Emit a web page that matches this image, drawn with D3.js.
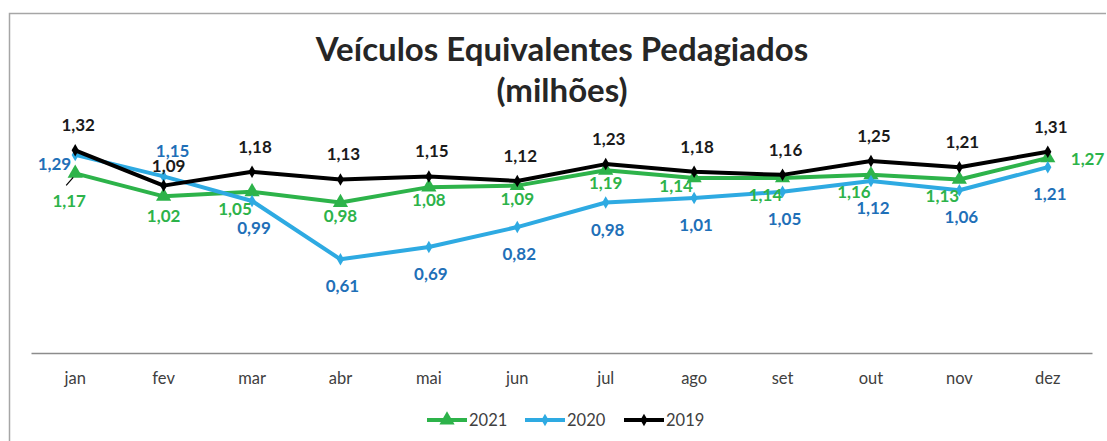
<!DOCTYPE html>
<meta charset="utf-8">
<style>
body { margin: 0; background: #fff; }
svg { font-family: Lato, "Open Sans", sans-serif; }
.axis path, .axis line { fill: none; }
</style>
<body>
<script src="https://cdn.jsdelivr.net/npm/d3@7/dist/d3.min.js"></script>
<script>

// categories and values (milhoes)
var months = ["jan", "fev", "mar", "abr", "mai", "jun", "jul", "ago", "set", "out", "nov", "dez"];
var v2021 = [1.17, 1.02, 1.05, 0.98, 1.08, 1.09, 1.19, 1.14, 1.14, 1.16, 1.13, 1.27];
var v2020 = [1.29, 1.15, 0.99, 0.61, 0.69, 0.82, 0.98, 1.01, 1.05, 1.12, 1.06, 1.21];
var v2019 = [1.32, 1.09, 1.18, 1.13, 1.15, 1.12, 1.23, 1.18, 1.16, 1.25, 1.21, 1.31];
var seriesNames = ["2021", "2020", "2019"];

// where each data label sits relative to its point
var place2021 = ["leader", "low", "belowleft", "below", "below", "below", "below", "leftup", "belowleft", "belowleft", "belowleft", "right"];
var place2020 = ["left", "aboveright", "under", "under", "under", "under", "under", "under", "under", "under", "under", "under"];
var place2019 = ["above", "abovelow", "above", "above", "above", "above", "above", "above", "above", "above", "above", "above"];

var W = 1107, H = 441;

var svg = d3.select("body").append("svg")
    .attr("width", W)
    .attr("height", H);

// chart border
svg.append("path")
    .attr("d", "M9.5," + H + "V13.5H" + (W - 1))
    .attr("fill", "none")
    .attr("stroke", "#a6a6a6")
    .attr("stroke-width", 1.5);

// title
svg.append("text")
    .attr("x", 562).attr("y", 61)
    .attr("text-anchor", "middle")
    .attr("font-size", 33).attr("font-weight", "bold")
    .attr("fill", "#262626")
    .text("Veículos Equivalentes Pedagiados");
svg.append("text")
    .attr("x", 562).attr("y", 102)
    .attr("text-anchor", "middle")
    .attr("font-size", 33).attr("font-weight", "bold")
    .attr("fill", "#262626")
    .text("(milhões)");

var x = d3.scaleBand().domain(months).range([31, 1092]);
var y = d3.scaleLinear().domain([0, 1.4]).range([353, 138]);

function cx(d, i) { return x(months[i]) + x.bandwidth() / 2; }

// x axis
var xAxis = svg.append("g")
    .attr("class", "axis")
    .attr("transform", "translate(0," + y(0) + ")")
    .call(d3.axisBottom(x).tickSize(0).tickPadding(19));
xAxis.select(".domain").attr("stroke", "#8c8c8c").attr("stroke-width", 1.5);
xAxis.selectAll("text")
    .attr("font-size", 16.5)
    .attr("font-family", "Lato, 'Open Sans', sans-serif")
    .attr("fill", "#404040");

var series = [
  { name: seriesNames[0], values: v2021, place: place2021, line: "#2db34a", label: "#2db34a", symbol: d3.symbolTriangle, size: 100 },
  { name: seriesNames[1], values: v2020, place: place2020, line: "#2eaae2", label: "#1f70b8", symbol: d3.symbolDiamond, size: 45 },
  { name: seriesNames[2], values: v2019, place: place2019, line: "#000000", label: "#1a1a1a", symbol: d3.symbolDiamond, size: 45 }
];

var line = d3.line()
    .x(cx)
    .y(function(d) { return y(d); });

series.forEach(function(s) {
  svg.append("path")
      .datum(s.values)
      .attr("fill", "none")
      .attr("stroke", s.line)
      .attr("stroke-width", 4)
      .attr("stroke-linejoin", "round")
      .attr("d", line);

  svg.selectAll(null)
      .data(s.values)
      .enter().append("path")
      .attr("d", d3.symbol().type(s.symbol).size(s.size))
      .attr("fill", s.line)
      .attr("transform", function(d, i) { return "translate(" + cx(d, i) + "," + y(d) + ")"; });
});

// leader line for the jan 2021 label
svg.append("line")
    .attr("x1", cx(v2021[0], 0) - 9).attr("y1", y(v2021[0]) + 12)
    .attr("x2", cx(v2021[0], 0) - 2).attr("y2", y(v2021[0]) + 4)
    .attr("stroke", "#000").attr("stroke-width", 1.2);

// data label offsets: dx, dy (baseline), anchor
var offsets = {
  above:      [3, -19, "middle"],
  abovelow:   [5, -14, "middle"],
  aboveright: [9, -19, "middle"],
  under:      [2, 33, "middle"],
  below:      [0, 19, "middle"],
  low:        [0, 26, "middle"],
  belowleft:  [-17, 23, "middle"],
  leftup:     [-18, 14, "middle"],
  leader:     [-6, 34, "middle"],
  left:       [-4, 15, "end"],
  right:      [23, 7, "start"]
};

series.forEach(function(s) {
  svg.selectAll(null)
      .data(s.values)
      .enter().append("text")
      .attr("x", function(d, i) { return cx(d, i) + offsets[s.place[i]][0]; })
      .attr("y", function(d, i) { return y(d) + offsets[s.place[i]][1]; })
      .attr("text-anchor", function(d, i) { return offsets[s.place[i]][2]; })
      .attr("font-size", 17)
      .attr("font-weight", "bold")
      .attr("fill", s.label)
      .text(function(d) { return d3.format(".2f")(d).replace(".", ","); });
});

// legend
var legendX = [427, 525, 624];
var legend = svg.selectAll(".legend")
    .data(series)
    .enter().append("g")
    .attr("class", "legend")
    .attr("transform", function(d, i) { return "translate(" + legendX[i] + ",420)"; });
legend.append("line")
    .attr("x1", 0).attr("x2", 40)
    .attr("stroke", function(d) { return d.line; })
    .attr("stroke-width", 4);
legend.append("path")
    .attr("d", function(d) { return d3.symbol().type(d.symbol).size(d.size)(); })
    .attr("transform", "translate(20,0)")
    .attr("fill", function(d) { return d.line; });
legend.append("text")
    .attr("x", 42).attr("y", 6)
    .attr("font-size", 16.5)
    .attr("fill", "#404040")
    .text(function(d) { return d.name; });

</script>
</body>
